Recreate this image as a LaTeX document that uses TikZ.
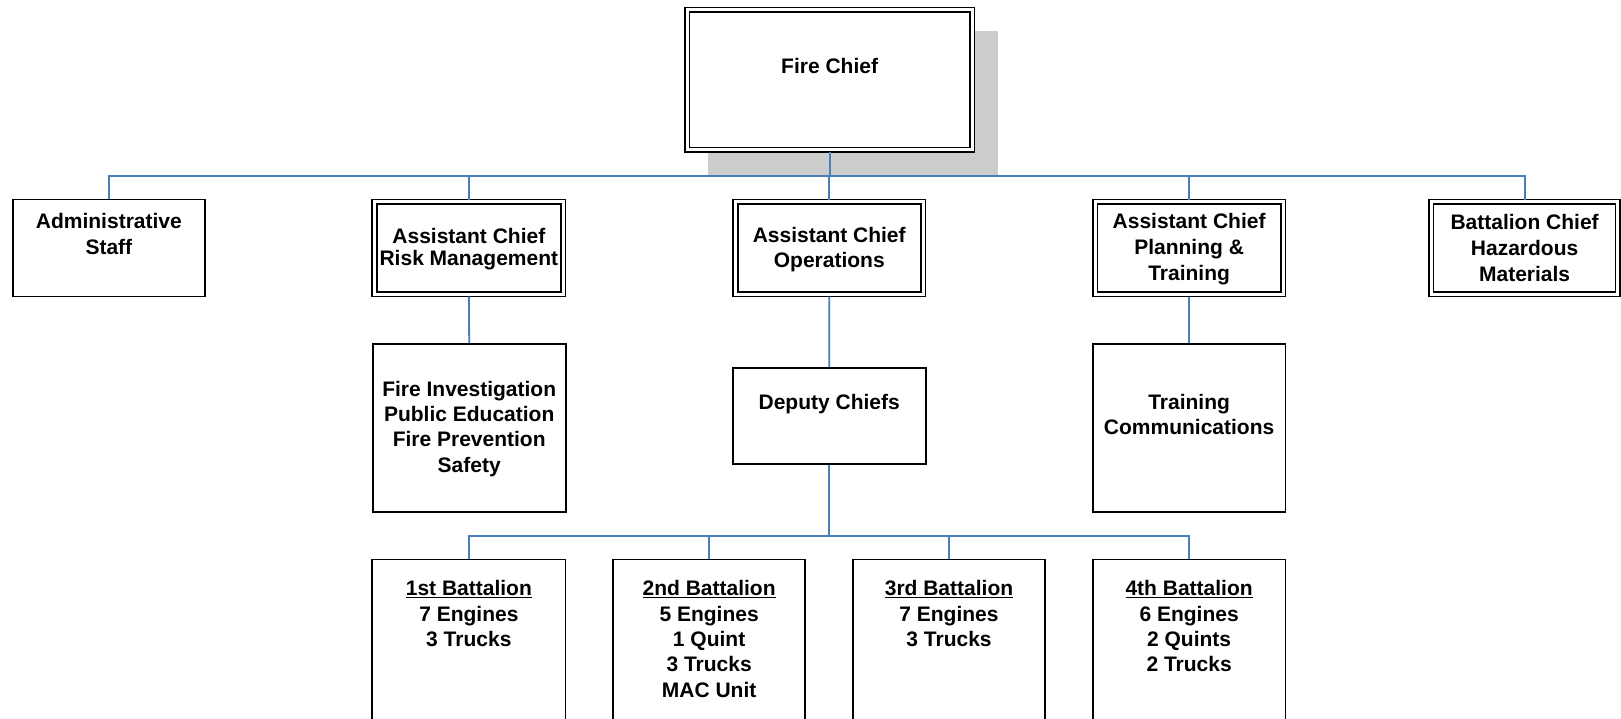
\documentclass[tikz,border=0pt]{standalone}
\usepackage{fontspec}
\setmainfont{Liberation Sans}
\definecolor{linkblue}{HTML}{4A7EBB}
\definecolor{shadowgray}{HTML}{CCCCCC}

\begin{document}
\begin{tikzpicture}[x=1pt,y=-1pt,  % 一个单位就是一个像素, y 轴朝下
  box/.style={draw=black,line width=1.8,fill=white,inner sep=0},
  dbox/.style={draw=black,line width=1.6,double=white,double distance=3.1,fill=white,inner sep=0,outer sep=2.35},
  txt/.style={anchor=north,inner sep=0,align=center,font=\fontsize{21}{25.3}\selectfont\bfseries},
  conn/.style={draw=linkblue,line width=1.8}]

  % 固定画布大小, 超出部分剪掉
  \useasboundingbox (0,0) rectangle (1621,718);
  \clip (0,0) rectangle (1621,718);

  % 灰色阴影
  \fill[shadowgray] (708,31) rectangle (998,175.7);

  % 最上面一层
  \node[dbox,minimum width=285,minimum height=140] (chief) at (829.6,79.65) {};
  \node[txt] (chieftxt) at (829.6,58.4) {Fire Chief};

  % 第二层, double 就是双线框
  \node[box,minimum width=192.3,minimum height=97] (admin) at (108.85,248) {};
  \node[dbox,minimum width=188.6,minimum height=92.3] (risk) at (468.85,248) {};
  \node[dbox,minimum width=187.8,minimum height=92.3] (ops) at (829.25,248) {};
  \node[dbox,minimum width=188.1,minimum height=92.3] (plan) at (1189.1,248) {};
  \node[dbox,minimum width=186.6,minimum height=92.3] (hazmat) at (1524.6,248) {};

  \node[txt] (admintxt) at (108.85,213.4) {Administrative\\Staff};
  \node[txt,font=\fontsize{21}{21.7}\selectfont\bfseries] (risktxt) at (468.85,227.9) {Assistant Chief\\Risk Management};
  \node[txt,font=\fontsize{21}{24.8}\selectfont\bfseries] (opstxt) at (829.25,226.9) {Assistant Chief\\Operations};
  \node[txt,font=\fontsize{21}{25.9}\selectfont\bfseries] (plantxt) at (1189.1,213.4) {Assistant Chief\\Planning \&\\Training};
  \node[txt,font=\fontsize{21}{25.8}\selectfont\bfseries] (hazmattxt) at (1524.6,214.5) {Battalion Chief\\Hazardous\\Materials};

  % 第三层
  \node[box,minimum width=193,minimum height=167.7] (fireinv) at (469.2,427.9) {};
  \node[box,minimum width=193,minimum height=96] (deputy) at (829.2,416) {};
  \node[box,minimum width=192.8,minimum height=167.7] (training) at (1189.1,427.9) {};

  \node[txt] (fireinvtxt) at (469.2,380.9) {Fire Investigation\\Public Education\\Fire Prevention\\Safety};
  \node[txt] (deputytxt) at (829.2,394.4) {Deputy Chiefs};
  \node[txt,font=\fontsize{21}{24.8}\selectfont\bfseries] (trainingtxt) at (1189.1,394.4) {Training\\Communications};

  % 第四层, 下边框在画布外面
  \node[box,minimum width=193.3,minimum height=190] (bat1) at (468.85,654.5) {};
  \node[box,minimum width=192.3,minimum height=190] (bat2) at (709.15,654.5) {};
  \node[box,minimum width=192,minimum height=190] (bat3) at (949,654.5) {};
  \node[box,minimum width=192.8,minimum height=190] (bat4) at (1189.1,654.5) {};

  \node[txt] (bat1txt) at (468.85,580.4) {\underline{1st Battalion}\\7 Engines\\3 Trucks};
  \node[txt] (bat2txt) at (709.15,580.4) {\underline{2nd Battalion}\\5 Engines\\1 Quint\\3 Trucks\\MAC Unit};
  \node[txt] (bat3txt) at (949,580.4) {\underline{3rd Battalion}\\7 Engines\\3 Trucks};
  \node[txt] (bat4txt) at (1189.1,580.4) {\underline{4th Battalion}\\6 Engines\\2 Quints\\2 Trucks};

  % 蓝色连线, |- 表示先竖后横
  \coordinate (bus) at (829.6,175.7);
  \draw[conn] (chief.south) -- (bus);
  \foreach \n in {admin,risk,ops,plan,hazmat}
    \draw[conn] (\n.north) |- (bus);

  \draw[conn] (risk.south) -- (fireinv.north);
  \draw[conn] (ops.south) -- (deputy.north);
  \draw[conn] (plan.south) -- (training.north);

  \coordinate (bus2) at (829.2,535.7);
  \draw[conn] (deputy.south) -- (bus2);
  \foreach \n in {bat1,bat2,bat3,bat4}
    \draw[conn] (\n.north) |- (bus2);

\end{tikzpicture}
\end{document}
